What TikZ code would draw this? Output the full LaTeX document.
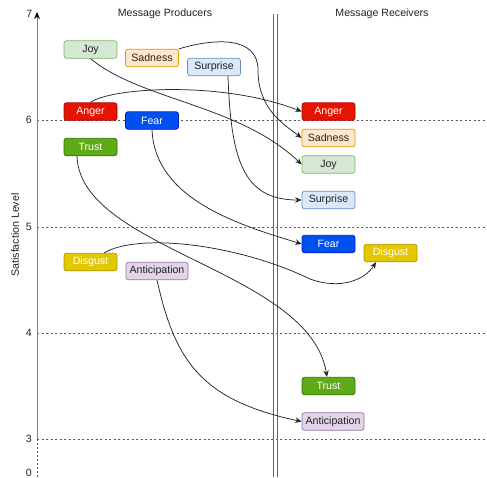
\documentclass[tikz,border=0pt]{standalone}
\usepackage{fontspec}
\setmainfont{Liberation Sans}
\usetikzlibrary{arrows.meta}
\definecolor{joyF}{HTML}{D5E8D4}\definecolor{joyD}{HTML}{82B366}
\definecolor{sadF}{HTML}{FFE6CC}\definecolor{sadD}{HTML}{D79B00}
\definecolor{surF}{HTML}{DAE8FC}\definecolor{surD}{HTML}{6C8EBF}
\definecolor{angF}{HTML}{E51400}\definecolor{angD}{HTML}{B20000}
\definecolor{feaF}{HTML}{0050EF}\definecolor{feaD}{HTML}{001DBC}
\definecolor{truF}{HTML}{60A917}\definecolor{truD}{HTML}{2D7600}
\definecolor{disF}{HTML}{E3C800}\definecolor{disD}{HTML}{B09500}
\definecolor{antF}{HTML}{E1D5E7}\definecolor{antD}{HTML}{9673A6}
\definecolor{txt}{HTML}{222222}
\tikzset{
  emo/.style={rectangle, rounded corners=2.5pt, minimum width=53pt, minimum height=17.5pt, inner sep=1pt, font=\fontsize{10.6}{12}\selectfont, line width=0.7pt},
  emowide/.style={emo, minimum width=62pt},
  joyS/.style={emo, fill=joyF, draw=joyD, text=txt},
  sadS/.style={emo, fill=sadF, draw=sadD, text=txt},
  surS/.style={emo, fill=surF, draw=surD, text=txt},
  angS/.style={emo, fill=angF, draw=angD, text=white},
  feaS/.style={emo, fill=feaF, draw=feaD, text=white},
  truS/.style={emo, fill=truF, draw=truD, text=white},
  disS/.style={emo, fill=disF, draw=disD, text=white},
  antS/.style={emowide, fill=antF, draw=antD, text=txt},
  link/.style={draw=black!85, line width=0.75pt, -{Stealth[length=6.5pt,width=5.5pt]}},
  grid/.style={draw=black!65, line width=0.75pt, dash pattern=on 2pt off 2.5pt},
  lbl/.style={font=\fontsize{10.6}{12}\selectfont, text=txt, inner sep=0pt},
}
\begin{document}
\begin{tikzpicture}[x=1pt,y=-1pt]
\useasboundingbox (0,0) rectangle (487,477);
% grid lines
\draw[grid] (37,120) -- (487,120);
\draw[grid] (37,227) -- (487,227);
\draw[grid] (37,333) -- (487,333);
\draw[grid] (37,439) -- (487,439);
% axis
\coordinate (axB) at (37,439);
\coordinate (axT) at (37,12);
\coordinate (axZ) at (37,477);
\draw[draw=black!50, line width=0.9pt, -{Stealth[length=7pt,width=6pt,color=black]}] (axB) -- (axT);
\draw[draw=black!65, line width=0.9pt, dash pattern=on 1.5pt off 2.5pt] (axB) -- (axZ);
\node[lbl, anchor=east] (t7) at (32.5,14) {7};
\node[lbl, anchor=east] (t6) at (32,120) {6};
\node[lbl, anchor=east] (t5) at (32,227) {5};
\node[lbl, anchor=east] (t4) at (32,333) {4};
\node[lbl, anchor=east] (t3) at (32,439) {3};
\node[lbl, anchor=east] (t0) at (32,472.5) {0};
\node[lbl, rotate=90] (ylab) at (15,235) {Satisfaction Level};
% separator
\draw[draw=black!60, line width=0.9pt] (273,14) -- (273,477);
\draw[draw=black!60, line width=0.9pt] (277,14) -- (277,477);
% titles
\node[lbl] (tp) at (165,14) {Message Producers};
\node[lbl] (tr) at (382,14) {Message Receivers};
% producers
\node[joyS] (jL) at (90.5,49.5) {Joy};
\node[sadS] (sL) at (152,58) {Sadness};
\node[surS] (suL) at (214,67) {Surprise};
\node[angS] (aL) at (90.5,111.5) {Anger};
\node[feaS] (fL) at (152,120.5) {Fear};
\node[truS] (tL) at (90.5,147) {Trust};
\node[disS] (dL) at (90.5,262) {Disgust};
\node[antS] (anL) at (157,271) {Anticipation};
% receivers
\node[angS] (aR) at (328.5,111.5) {Anger};
\node[sadS] (sR) at (328.5,138) {Sadness};
\node[joyS] (jR) at (328.5,164.5) {Joy};
\node[surS] (suR) at (328.5,200) {Surprise};
\node[feaS] (fR) at (328.5,244) {Fear};
\node[disS] (dR) at (390.5,253) {Disgust};
\node[truS] (tR) at (328.5,386) {Trust};
\node[antS] (anR) at (333,421.5) {Anticipation};
% links
\draw[link] (aL.north) .. controls (110,88) and (220,80) .. (aR.west);
\draw[link] (jL.south) .. controls (140,100) and (240,105) .. (jR.west);
\draw[link] (sL.north east) .. controls (215,38) and (258,36) .. (258,70) .. controls (258,110) and (285,125) .. (sR.west);
\draw[link] ([xshift=14pt]suL.south) .. controls (231,160) and (243,200) .. (suR.west);
\draw[link] (fL.south) .. controls (155,200) and (240,225) .. (fR.west);
\draw[link] ([xshift=-13.5pt]tL.south) .. controls (80,250) and (310,270) .. ([xshift=-1.5pt]tR.north);
\draw[link] ([xshift=13.5pt]dL.north) .. controls (140,232) and (240,245) .. (310,279) .. controls (340,290) and (365,280) .. ([xshift=-14.5pt]dR.south);
\draw[link] (anL.south) .. controls (175,360) and (200,400) .. (anR.west);
\end{tikzpicture}
\end{document}
